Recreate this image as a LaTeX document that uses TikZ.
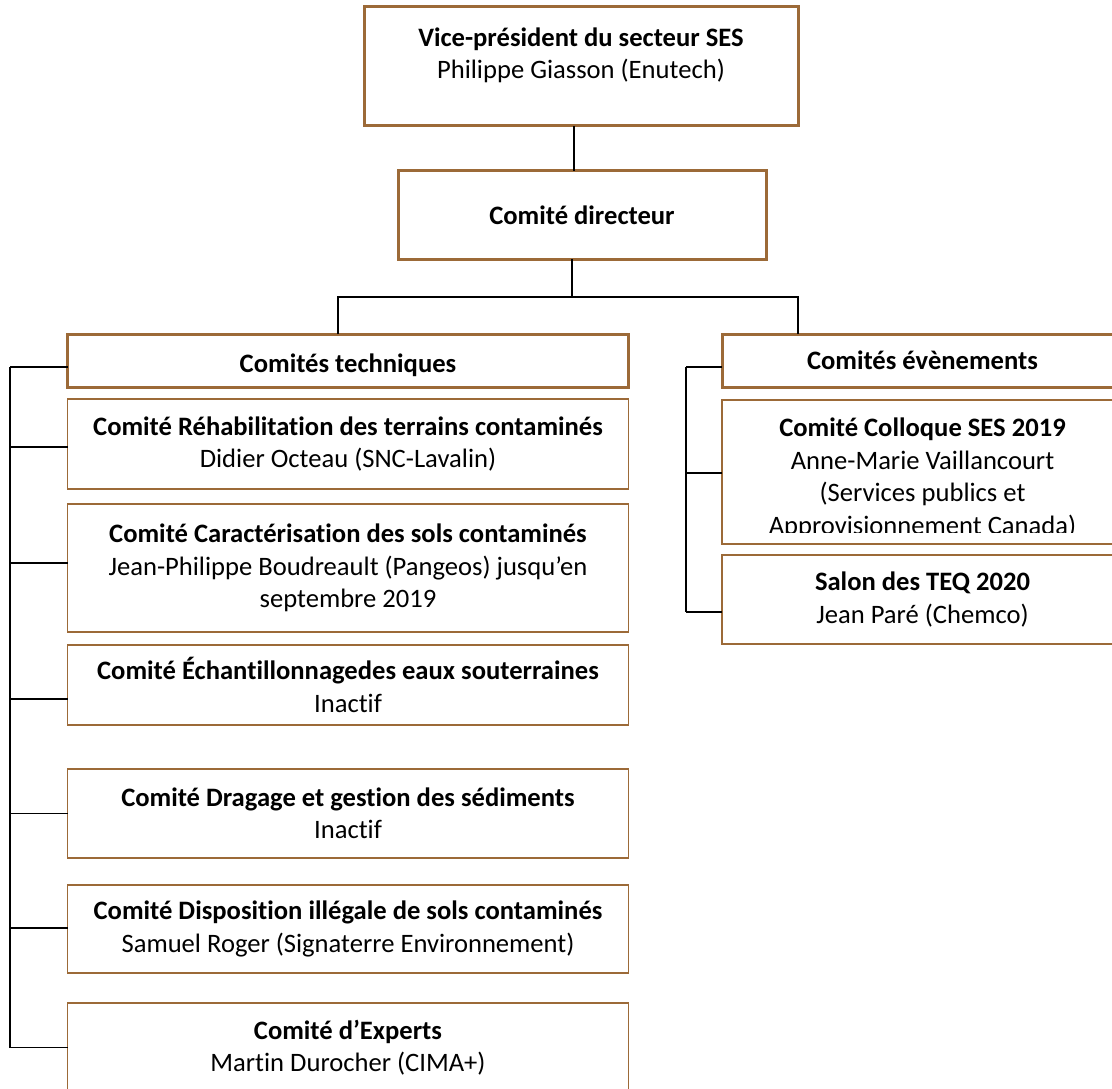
\documentclass[tikz,border=0pt]{standalone}
\usepackage{fontspec}
\setmainfont{Carlito}[Ligatures=NoCommon]

\definecolor{cadre}{RGB}{156,106,56}
\newcommand{\orgfont}{\fontsize{26.6}{32.5}\selectfont}

\begin{document}
\begin{tikzpicture}[x=1pt,y=-1pt,
        orgbox/.style={draw=cadre, line width=1.6pt, align=center, inner sep=0pt, outer sep=0pt, font=\orgfont},
        headbox/.style={orgbox, line width=3pt},
        trunk/.style={line width=2pt},
        branch/.style={line width=1.3pt}]
    \useasboundingbox (0,0) rectangle (1112,1089);

    % haut de l'organigramme
    \node[headbox, minimum width=434, minimum height=119] (vp) at (581,66.5)
        {\textbf{Vice-président du secteur SES}\\ Philippe Giasson (Enutech)\\[-6pt] \mbox{}};
    \node[headbox, minimum width=368, minimum height=88] (dir) at (582,215)
        {\textbf{Comité directeur}};
    \node[headbox, minimum width=561, minimum height=53] (tech) at (348,360.5)
        {\rule{0pt}{29pt}\textbf{Comités techniques}};
    \node[headbox, minimum width=401, minimum height=53] (even) at (922.5,360.5)
        {\textbf{Comités évènements}};

    % comites techniques
    \node[orgbox, minimum width=561, minimum height=90] (rehab) at (348,444)
        {\textbf{Comité Réhabilitation des terrains contaminés}\\ Didier Octeau (SNC-Lavalin)};
    \node[orgbox, minimum width=561, minimum height=128] (carac) at (348,568)
        {\textbf{Comité Caractérisation des sols contaminés}\\ Jean-Philippe Boudreault (Pangeos) jusqu’en\\ septembre 2019};
    \node[orgbox, minimum width=561, minimum height=80] (echant) at (348,685)
        {\textbf{Comité Échantillonnagedes eaux souterraines}\\ Inactif};
    \node[orgbox, minimum width=561, minimum height=89] (drag) at (348,813.5)
        {\textbf{Comité Dragage et gestion des sédiments}\\ Inactif};
    \node[orgbox, minimum width=561, minimum height=88] (dispo) at (348,929)
        {\textbf{Comité Disposition illégale de sols contaminés}\\ Samuel Roger (Signaterre Environnement)};
    \node[orgbox, minimum width=561, minimum height=89] (expert) at (348,1047.5)
        {\textbf{Comité d’Experts}\\ Martin Durocher (CIMA+)};

    % comites evenements
    \node[orgbox, minimum width=401, minimum height=144] (colloque) at (922.5,472)
        {\rule{0pt}{34.5pt}\textbf{Comité Colloque SES 2019}\\ Anne-Marie Vaillancourt\\ (Services publics et\\ Approvisionnement Canada)\rule[-8pt]{0pt}{8pt}};
    \fill[white] (723,533) rectangle (1112,543);
    \node[orgbox, minimum width=401, minimum height=89] (salon) at (922.5,599.5)
        {\textbf{Salon des TEQ 2020}\\ Jean Paré (Chemco)};

    % liens
    \coordinate (split) at (571.5,297);
    \coordinate (lrail) at (10,0);
    \coordinate (rrail) at (686,0);
    \draw[trunk] ([xshift=-7pt]vp.south) -- ([xshift=-7pt]vp.south |- dir.north);
    \draw[trunk] (split |- dir.south) -- (split);
    \draw[trunk] ([xshift=-10pt]tech.north) |- (split) -| ([xshift=76pt]even.north west);

    \foreach \n/\dy in {tech/-6.5, rehab/-3, carac/5, echant/-14, drag/0, dispo/1, expert/0}
        \draw[branch] ([yshift=\dy pt]\n.west) -- ([yshift=\dy pt]\n.west -| lrail);
    \draw[branch] ([yshift=-6.5pt]tech.west -| lrail) -- (expert.west -| lrail);

    \foreach \n/\dy in {even/-6.5, colloque/-1, salon/-12.5}
        \draw[branch] ([yshift=\dy pt]\n.west) -- ([yshift=\dy pt]\n.west -| rrail);
    \draw[branch] ([yshift=-6.5pt]even.west -| rrail) -- ([yshift=-12.5pt]salon.west -| rrail);
\end{tikzpicture}
\end{document}
